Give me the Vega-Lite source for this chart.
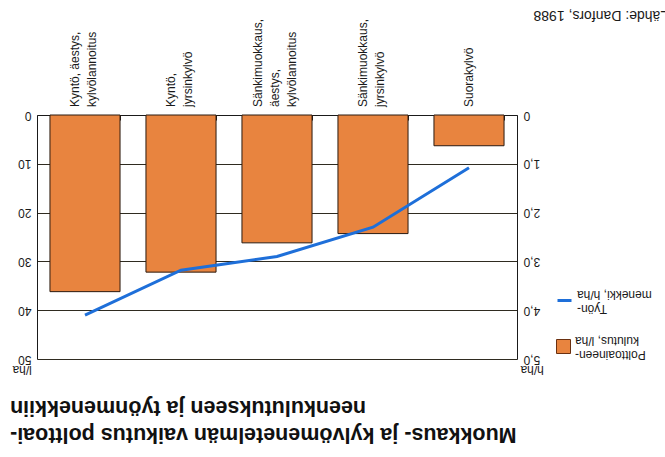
{
  "$schema": "https://vega.github.io/schema/vega-lite/v6.json",
  "width": 480,
  "height": 244,
  "autosize": {"type": "none"},
  "padding": {"left": 37, "top": 115, "right": 148, "bottom": 98},
  "background": "white",
  "title": {
    "text": ["Muokkaus- ja kylvömenetelmän vaikutus polttoai-", "neenkulutukseen ja työnmenekkiin"],
    "orient": "bottom",
    "anchor": "start",
    "frame": "group",
    "angle": 180,
    "align": "right",
    "baseline": "bottom",
    "fontSize": 21.5,
    "fontWeight": "bold",
    "font": "Liberation Sans",
    "color": "#111111",
    "dx": 27,
    "offset": 48,
    "lineHeight": 27
  },
  "data": {
    "values": [
      {"menetelma": "Kyntö, äestys,\nkylvölannoitus", "kulutus": 36.2, "menekki": 4.1},
      {"menetelma": "Kyntö,\njyrsinkylvö", "kulutus": 32.2, "menekki": 3.18},
      {"menetelma": "Sänkimuokkaus,\näestys,\nkylvölannoitus", "kulutus": 26.2, "menekki": 2.9},
      {"menetelma": "Sänkimuokkaus,\njyrsinkylvö", "kulutus": 24.3, "menekki": 2.3},
      {"menetelma": "Suorakylvö", "kulutus": 6.3, "menekki": 1.08}
    ]
  },
  "encoding": {
    "x": {
      "field": "menetelma",
      "type": "nominal",
      "sort": null,
      "scale": {"paddingInner": 0.27, "paddingOuter": 0.135},
      "axis": {
        "orient": "top",
        "title": null,
        "labels": false,
        "tickSize": -5,
        "tickBand": "extent",
        "ticks": true,
        "domain": true,
        "grid": false
      }
    }
  },
  "layer": [
    {
      "mark": {"type": "bar", "stroke": "#2a1a10", "strokeWidth": 1},
      "encoding": {
        "y": {
          "field": "kulutus",
          "type": "quantitative",
          "scale": {"domain": [0, 50], "reverse": true},
          "axis": {
            "orient": "left",
            "title": "l/ha",
            "titleAngle": 180,
            "titleAlign": "right",
            "titleBaseline": "alphabetic",
            "titleX": -25,
            "titleY": 250,
            "titleFontSize": 12,
            "titleFontWeight": "normal",
            "values": [0, 10, 20, 30, 40, 50],
            "labelAngle": 180,
            "labelAlign": "left",
            "labelBaseline": "middle",
            "labelPadding": 6,
            "labelFontSize": 12,
            "ticks": false,
            "domain": true,
            "grid": true,
            "gridColor": "#2f2b20",
            "gridOpacity": 1
          }
        },
        "fill": {
          "datum": "Polttoaineen-kulutus, l/ha",
          "scale": {"range": ["#e8843f"]},
          "legend": {
            "orient": "none",
            "legendX": 519,
            "legendY": 224,
            "title": null,
            "symbolType": "square",
            "symbolSize": 196,
            "symbolStrokeColor": "#6a3010",
            "symbolStrokeWidth": 1,
            "labelExpr": "[slice(datum.label, 0, indexof(datum.label, '-') + 1), slice(datum.label, indexof(datum.label, '-') + 1)]",
            "labelAlign": "right",
            "labelBaseline": "line-bottom",
            "labelFontSize": 12,
            "labelLineHeight": 18,
            "padding": 0
          }
        }
      }
    },
    {
      "mark": {"type": "line", "strokeWidth": 3},
      "encoding": {
        "y": {
          "field": "menekki",
          "type": "quantitative",
          "scale": {"domain": [0, 5], "reverse": true},
          "axis": {
            "orient": "right",
            "title": "h/ha",
            "titleAngle": 180,
            "titleAlign": "right",
            "titleBaseline": "alphabetic",
            "titleX": 3,
            "titleY": 250,
            "titleFontSize": 12,
            "titleFontWeight": "normal",
            "values": [0, 1, 2, 3, 4, 5],
            "labelExpr": "datum.value == 0 ? '0' : replace(format(datum.value, '.1f'), '.', ',')",
            "labelAngle": 180,
            "labelAlign": "right",
            "labelBaseline": "middle",
            "labelPadding": 6,
            "labelFontSize": 12,
            "ticks": false,
            "domain": true,
            "grid": false
          }
        },
        "stroke": {
          "datum": "Työn-menekki, h/ha",
          "scale": {"range": ["#1e6fd9"]},
          "legend": {
            "orient": "none",
            "legendX": 519,
            "legendY": 177,
            "title": null,
            "symbolType": "stroke",
            "symbolSize": 196,
            "symbolStrokeWidth": 3,
            "labelExpr": "[slice(datum.label, 0, indexof(datum.label, '-') + 1), slice(datum.label, indexof(datum.label, '-') + 1)]",
            "labelAlign": "right",
            "labelBaseline": "line-bottom",
            "labelFontSize": 12,
            "labelLineHeight": 18,
            "padding": 0
          }
        }
      }
    },
    {
      "transform": [{"filter": "indexof(datum.menetelma, '\\n') < 0"}],
      "mark": {
        "type": "text",
        "angle": 270,
        "align": "left",
        "baseline": "middle",
        "lineBreak": "\n",
        "lineHeight": 17,
        "fontSize": 12,
        "dx": 8,
        "dy": 0,
        "color": "#1a1a1a"
      },
      "encoding": {
        "y": {
          "datum": 0,
          "type": "quantitative",
          "scale": {"domain": [0, 50], "reverse": true},
          "axis": {
            "orient": "left",
            "title": "Lähde: Danfors, 1988",
            "titleAngle": 180,
            "titleAlign": "right",
            "titleBaseline": "alphabetic",
            "titleX": 496,
            "titleY": -105,
            "titleFontSize": 14,
            "titleFontWeight": "normal",
            "labels": false,
            "ticks": false,
            "domain": false,
            "grid": false
          }
        },
        "text": {"field": "menetelma"}
      }
    },
    {
      "transform": [{"filter": "indexof(datum.menetelma, '\\n') >= 0 && indexof(datum.menetelma, '\\n') == lastindexof(datum.menetelma, '\\n')"}],
      "mark": {
        "type": "text",
        "angle": 270,
        "align": "left",
        "baseline": "middle",
        "lineBreak": "\n",
        "lineHeight": 17,
        "fontSize": 12,
        "dx": 8,
        "dy": -10,
        "color": "#1a1a1a"
      },
      "encoding": {
        "y": {"datum": 0, "type": "quantitative", "scale": {"domain": [0, 50], "reverse": true}, "axis": null},
        "text": {"field": "menetelma"}
      }
    },
    {
      "transform": [{"filter": "indexof(datum.menetelma, '\\n') >= 0 && indexof(datum.menetelma, '\\n') != lastindexof(datum.menetelma, '\\n')"}],
      "mark": {
        "type": "text",
        "angle": 270,
        "align": "left",
        "baseline": "middle",
        "lineBreak": "\n",
        "lineHeight": 17,
        "fontSize": 12,
        "dx": 8,
        "dy": -19,
        "color": "#1a1a1a"
      },
      "encoding": {
        "y": {"datum": 0, "type": "quantitative", "scale": {"domain": [0, 50], "reverse": true}, "axis": null},
        "text": {"field": "menetelma"}
      }
    }
  ],
  "resolve": {"scale": {"y": "independent"}},
  "config": {
    "font": "Liberation Sans",
    "view": {"stroke": null},
    "style": {"guide-label": {"angle": 180}},
    "axis": {"labelColor": "#1a1a1a", "titleColor": "#1a1a1a", "domainColor": "#1a1a1a", "tickColor": "#1a1a1a"},
    "legend": {"labelColor": "#1a1a1a"}
  }
}
